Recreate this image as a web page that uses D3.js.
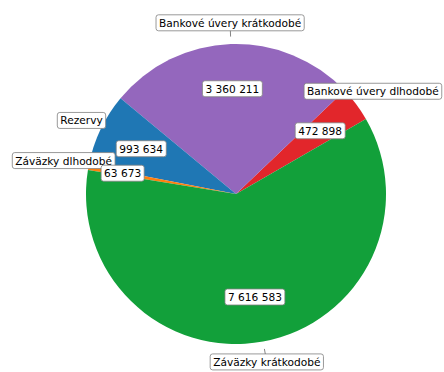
<!DOCTYPE html>
<html>
<head>
<meta charset="utf-8">
<script src="https://cdn.jsdelivr.net/npm/d3@7"></script>
<style>
  body { margin: 0; background: #fff; }
  text { font-family: "DejaVu Sans", sans-serif; font-size: 10.6px; }
</style>
</head>
<body>
<svg id="svg"></svg>
<script>
var width = 444;
var height = 372;

// data
const categories = ["Bankové úvery dlhodobé", "Bankové úvery krátkodobé", "Rezervy", "Záväzky dlhodobé", "Záväzky krátkodobé"];
const values = [472898, 3360211, 993634, 63673, 7616583];
const colors = ["#e2262b", "#9467bd", "#1f77b4", "#ff7f0e", "#12a03a"];

var cx = 236, cy = 194, radius = 150;
var startDeg = 30; // counter-clockwise from 3 o'clock

var svg = d3.select("#svg")
    .attr("width", width)
    .attr("height", height)
    .attr("viewBox", [0, 0, width, height]);

var g = svg.append("g").attr("transform", `translate(${cx},${cy})`);

var start = Math.PI / 2 - startDeg * Math.PI / 180;
var pie = d3.pie().sort(null).value(d => d)
    .startAngle(start)
    .endAngle(start - 2 * Math.PI);

var arcs = pie(values);
var arc = d3.arc().innerRadius(0).outerRadius(radius);

g.selectAll("path.slice")
  .data(arcs)
  .join("path")
    .attr("class", "slice")
    .attr("d", arc)
    .attr("fill", (d, i) => colors[i]);

var fmt = v => d3.format(",")(v).replace(/,/g, " ");

function pos(d, r) {
  var m = (d.startAngle + d.endAngle) / 2;
  return [r * Math.sin(m), -r * Math.cos(m)];
}

// label with a rounded box
function boxLabel(sel, txt, x, y) {
  var grp = sel.append("g").attr("transform", `translate(${x},${y})`);
  var t = grp.append("text")
      .attr("text-anchor", "middle")
      .attr("dy", "0.35em")
      .attr("fill", "#000")
      .text(txt);
  var b = t.node().getBBox();
  grp.insert("rect", "text")
      .attr("x", b.x - 3)
      .attr("y", b.y - 2)
      .attr("width", b.width + 6)
      .attr("height", b.height + 4)
      .attr("rx", 2.5)
      .attr("fill", "#fff")
      .attr("stroke", "#808080")
      .attr("stroke-width", 0.8);
}

// leader ticks + category labels
arcs.forEach((d, i) => {
  var p1 = pos(d, radius * 1.05), p2 = pos(d, radius * 1.14);
  g.append("line")
      .attr("x1", p1[0]).attr("y1", p1[1])
      .attr("x2", p2[0]).attr("y2", p2[1])
      .attr("stroke", "#666")
      .attr("stroke-width", 0.8);
});
arcs.forEach((d, i) => {
  var p = pos(d, radius * 1.14);
  // the small slice label sits a bit further out on the left
  if (i === 3) { p[0] -= 4; p[1] -= 3; }
  boxLabel(g, categories[i], p[0], p[1]);
});

// value labels inside
arcs.forEach((d, i) => {
  var p = pos(d, radius * 0.7);
  if (i === 3) { p[0] -= 10; p[1] -= 2; }
  boxLabel(g, fmt(values[i]), p[0], p[1]);
});
</script>
</body>
</html>
